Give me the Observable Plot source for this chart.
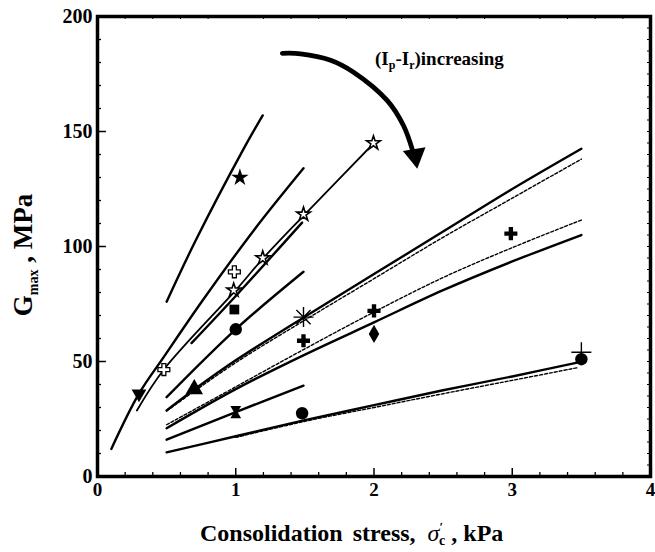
<!DOCTYPE html>
<html><head><meta charset="utf-8">
<script src="https://cdn.jsdelivr.net/npm/d3@7"></script>
<script src="https://cdn.jsdelivr.net/npm/@observablehq/plot@0.6"></script>
<style>
html,body{margin:0;padding:0;background:#fff;}
#chart svg{display:block;}
#chart svg text{font-family:"Liberation Serif","Times New Roman","DejaVu Serif",serif;}
</style>
</head><body><div id="chart"></div>
<script>
// ---- axis ticks ----
const xTicks = [0, 1, 2, 3, 4];
const yTicks = [0, 50, 100, 150, 200];

// ---- fitted curves (x = consolidation stress kPa, y = Gmax MPa) ----
const curve1 = [[0.5,76],[0.71,102.6],[1.05,141.7],[1.195,157]];
const curveA = [[0.1,12],[0.3,36],[0.48,52],[0.76,76.5],[1.13,107],[1.49,134]];
const curveC = [[0.285,28.7],[0.48,46.5],[1.0,81],[1.2,95],[1.5,114],[2.0,145]];
const curveB = [[0.68,58],[1.0,78.5],[1.48,110.4]];
const curveD = [[0.5,34.5],[1.0,64],[1.49,89]];
const curveE = [[0.5,28.7],[0.7,37.8],[1.0,50.5],[1.5,69.5],[2.0,88],[2.5,106.5],[3.0,125],[3.5,142.5]];
const curveEdash = [[0.5,28.5],[1.0,49.5],[1.5,68],[2.0,86],[2.5,104],[3.0,121],[3.5,138]];
const curveFdash = [[0.5,22.5],[1.0,39],[1.5,55.5],[2.0,71.5],[2.5,86.5],[3.0,99.5],[3.5,111.5]];
const curveG = [[0.5,21],[1.0,38],[1.5,53],[2.0,67],[2.5,81],[3.0,93.5],[3.5,105]];
const curveH = [[0.5,16],[1.0,28],[1.49,39.5]];
const curveI = [[0.5,10.5],[1.0,17.5],[1.5,24.5],[2.0,31],[2.5,37.5],[3.0,43.5],[3.47,49.5]];
const curveIdash = [[1.0,17],[1.5,24],[2.0,30],[2.5,36],[3.0,41.8],[3.47,47.3]];

// ---- measured points ----
const filledStar = [[1.03,130]];
const openPlus = [[0.48,46.5],[0.99,89]];
const triDown = [[0.3,36]];
const openStar = [[0.985,81],[1.195,95],[1.49,114],[1.996,145]];
const squares = [[0.99,72.6]];
const filledCircle = [[1.0,64],[1.48,27.5],[3.5,51]];
const triUp = [[0.70,38]];
const asterisk = [[1.49,69.3]];
const filledCross = [[1.49,59],[2.0,72],[2.99,105.6]];
const diamonds = [[2.0,62]];
const bowtie = [[1.0,28]];
const thinPlus = [[3.5,54]];

// ---- annotation arrow ----
const arrowPath = [[1.337,184],[1.469,183.8],[1.686,181],[1.852,175.8],[2.095,163.5],[2.213,152.6],[2.278,142]];
const arrowHead = [[2.298,139.5]];

const W = 655, H = 552, mL = 97, mR = 5, mT = 16, mB = 76;
const pW = W - mL - mR, pH = H - mT - mB;
const FONT = "Liberation Serif, Times New Roman, DejaVu Serif, serif";

const xMinor = d3.range(0.2, 4, 0.2).filter(v => Math.abs(v - Math.round(v)) > 1e-6);
const yMinor = d3.range(10, 200, 10).filter(v => v % 50 !== 0);
const yRight = d3.range(5, 200, 5);

const solid = (data, extra = {}) => Plot.line(data, {x: d => d[0], y: d => d[1], stroke: "black", strokeWidth: 2.4, curve: "catmull-rom", ...extra});
const dashed = (data) => Plot.line(data, {x: d => d[0], y: d => d[1], stroke: "black", strokeWidth: 1.4, strokeDasharray: "3,2", curve: "catmull-rom"});
const pts = (data, opts) => Plot.dot(data, {x: d => d[0], y: d => d[1], ...opts});

const plot = Plot.plot({
  width: W, height: H,
  marginLeft: mL, marginRight: mR, marginTop: mT, marginBottom: mB,
  x: {domain: [0, 4], axis: null},
  y: {domain: [0, 200], axis: null},
  style: {fontFamily: FONT, fontWeight: "bold", color: "black", background: "white"},
  marks: [
    // inner ticks
    Plot.tickX(xMinor, {x: d => d, insetTop: pH - 4, stroke: "black", strokeWidth: 1.3}),
    Plot.tickX([1, 2, 3], {x: d => d, insetTop: pH - 8, stroke: "black", strokeWidth: 1.5}),
    Plot.tickX(xMinor, {x: d => d, insetBottom: pH - 3, stroke: "black", strokeWidth: 1}),
    Plot.tickY(yMinor, {y: d => d, insetRight: pW - 4, stroke: "black", strokeWidth: 1.3}),
    Plot.tickY([50, 100, 150], {y: d => d, insetRight: pW - 9, stroke: "black", strokeWidth: 1.5}),
    Plot.tickY(yRight, {y: d => d, insetLeft: pW - 3, stroke: "black", strokeWidth: 1}),
    // curves
    solid(curve1), solid(curveA), solid(curveC, {strokeWidth: 1.8}), solid(curveB), solid(curveD),
    solid(curveE), dashed(curveEdash), dashed(curveFdash), solid(curveG), solid(curveH),
    solid(curveI), dashed(curveIdash),
    // points
    pts(filledStar, {symbol: "star", r: 5.5, fill: "black"}),
    pts(openPlus, {symbol: "cross", r: 5, fill: "white", stroke: "black", strokeWidth: 1.3}),
    pts(triDown, {symbol: "triangle", r: 5.5, fill: "black", rotate: 180}),
    pts(openStar, {symbol: "star", r: 4.3, fill: "white", stroke: "black", strokeWidth: 1.6}),
    pts(squares, {symbol: "square", r: 5.5, fill: "black"}),
    pts(filledCircle, {symbol: "circle", r: 6.2, fill: "black"}),
    pts(triUp, {symbol: "triangle", r: 6.5, fill: "black"}),
    pts(asterisk, {symbol: "plus", r: 6.5, stroke: "black", strokeWidth: 1.4}),
    pts(asterisk, {symbol: "times", r: 6.5, stroke: "black", strokeWidth: 1.4}),
    pts(filledCross, {symbol: "cross", r: 5.5, fill: "black"}),
    pts(diamonds, {symbol: "diamond", r: 5.5, fill: "black"}),
    pts(bowtie, {symbol: "triangle", r: 4, fill: "black", rotate: 180, dy: -3}),
    pts(bowtie, {symbol: "triangle", r: 4, fill: "black", dy: 3}),
    pts(thinPlus, {symbol: "plus", r: 6.5, stroke: "black", strokeWidth: 1.4}),
    // arrow
    Plot.line(arrowPath, {x: d => d[0], y: d => d[1], stroke: "black", strokeWidth: 4.8, curve: "catmull-rom"}),
    pts(arrowHead, {symbol: "triangle", r: 8.5, fill: "black", rotate: 171}),
    // axes labels
    Plot.axisX(xTicks, {tickSize: 0, tickPadding: 6, fontSize: 19, fontWeight: "bold", tickFormat: d => String(d)}),
    Plot.axisY(yTicks, {tickSize: 0, tickPadding: 5, fontSize: 20, fontWeight: "bold", tickFormat: d => String(d)}),
    Plot.frame({stroke: "black", strokeWidth: 3.5})
  ]
});

document.getElementById("chart").appendChild(plot);

const svg = d3.select(plot);
const addText = (attrs) => {
  const el = svg.append("text").attr("text-anchor", "start").attr("font-weight", "bold")
    .attr("font-family", FONT).attr("fill", "black");
  for (const k in attrs) el.attr(k, attrs[k]);
  return el;
};
// arrow annotation text
const t = addText({x: 375, y: 65, "font-size": 19});
t.append("tspan").text("(I");
t.append("tspan").attr("dy", 4).attr("font-size", 12).text("p");
t.append("tspan").attr("dy", -4).text("-I");
t.append("tspan").attr("dy", 4).attr("font-size", 12).text("r");
t.append("tspan").attr("dy", -4).text(")increasing");

// x axis title
const xt = addText({x: 200, y: 541, "font-size": 24});
xt.append("tspan").text("Consolidation");
xt.append("tspan").attr("dx", 10).text("stress,");
xt.append("tspan").attr("dx", 12).attr("font-style", "italic").attr("font-weight", "normal").text("σ");
xt.append("tspan").attr("dy", -10).attr("font-size", 13).text("′");
xt.append("tspan").attr("dx", -4).attr("dy", 14).attr("font-size", 14).text("c");
xt.append("tspan").attr("dy", -4).text(" , kPa");

// y axis title
const yt = addText({transform: "translate(32,255) rotate(-90)", "font-size": 27}).attr("text-anchor", "middle");
yt.append("tspan").text("G");
yt.append("tspan").attr("dy", 6).attr("font-size", 14).text("max");
yt.append("tspan").attr("dy", -6).text(" , MPa");
</script>
</body></html>
